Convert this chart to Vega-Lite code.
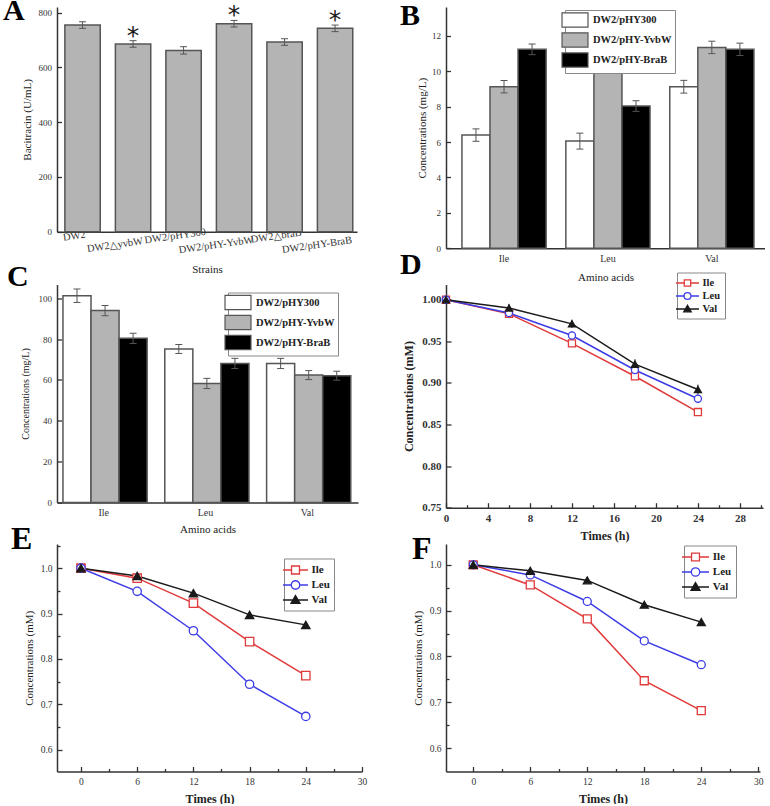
{
  "$schema": "https://vega.github.io/schema/vega-lite/v6.json",
  "background": "white",
  "padding": {"left": 3, "top": -4, "right": 0, "bottom": 0},
  "config": {
    "font": "Liberation Serif",
    "view": {"stroke": null},
    "axis": {"domainColor": "#333333", "domainWidth": 1.5, "tickColor": "#333333", "tickWidth": 1.3, "labelColor": "#333333", "titleColor": "#222222", "labelFont": "Liberation Serif", "titleFont": "Liberation Serif", "grid": false, "labelFontSize": 9.5, "titleFontSize": 11, "titleFontWeight": "normal", "labelFlush": false, "labelOverlap": false, "labelBound": false}
  },
  "bounds": "flush",
  "align": "each",
  "columns": 2,
  "spacing": {"row": 35.5, "column": 84},
  "resolve": {"scale": {"fill": "independent", "color": "independent", "stroke": "independent", "shape": "independent"}, "legend": {"fill": "independent", "color": "independent", "stroke": "independent", "shape": "independent"}},
  "concat": [
        {
          "width": 300, "height": 224.7,
          "title": {"text": "A", "anchor": "start", "frame": "group", "offset": 0, "dx": -54, "dy": 47, "baseline": "alphabetic", "fontSize": 30, "fontWeight": "bold", "font": "Liberation Serif", "color": "#000000"},
          "data": {"values": [
            {"strain": "DW2", "value": 755, "lo": 743, "hi": 767, "sig": ""},
            {"strain": "DW2△yvbW", "value": 686, "lo": 674, "hi": 698, "sig": "*"},
            {"strain": "DW2/pHY300", "value": 662, "lo": 649, "hi": 676, "sig": ""},
            {"strain": "DW2/pHY-YvbW", "value": 760, "lo": 748, "hi": 772, "sig": "*"},
            {"strain": "DW2△braB", "value": 693, "lo": 681, "hi": 705, "sig": ""},
            {"strain": "DW2/pHY-BraB", "value": 743, "lo": 731, "hi": 755, "sig": "*"}
          ]},
          "encoding": {
            "x": {"field": "strain", "type": "nominal", "sort": null,
              "scale": {"paddingInner": 0.3, "paddingOuter": 0.12, "align": 0.65},
              "axis": {"title": "Strains", "labelAngle": -8, "labelAlign": "center", "labelBaseline": "top", "labelFontSize": 10.5, "labelLineHeight": 9, "labelPadding": 3,
                "labelOffset": {"condition": {"test": "indexof(['DW2△yvbW','DW2/pHY-YvbW','DW2/pHY-BraB'], datum.value) >= 0", "value": -20}, "value": -9},
                "tickSize": -4, "titlePadding": 8, "titleFontSize": 11,
                "labelExpr": "indexof(['DW2△yvbW','DW2/pHY-YvbW','DW2/pHY-BraB'], datum.value) >= 0 ? ['', datum.label] : datum.label"}}
          },
          "layer": [
            {"mark": {"type": "bar", "fill": "#b4b4b4", "stroke": "#555555", "strokeWidth": 1.5},
             "encoding": {"y": {"field": "value", "type": "quantitative", "scale": {"domain": [0, 821], "nice": false},
               "axis": {"title": "Bacitracin (U/mL)", "values": [0, 100, 200, 300, 400, 500, 600, 700, 800], "labelExpr": "datum.value % 200 == 0 ? datum.label : ''", "tickSize": {"condition": {"test": "datum.value % 200 != 0", "value": -2.5}, "value": -4.5}, "labelPadding": 10, "titlePadding": 6, "labelFontSize": 9, "titleFontSize": 11}}}},
            {"mark": {"type": "rule", "color": "#555555", "strokeWidth": 1}, "encoding": {"y": {"field": "lo", "type": "quantitative"}, "y2": {"field": "hi"}}},
            {"mark": {"type": "tick", "orient": "horizontal", "size": 7, "thickness": 1, "color": "#555555", "opacity": 1}, "encoding": {"y": {"field": "lo", "type": "quantitative"}}},
            {"mark": {"type": "tick", "orient": "horizontal", "size": 7, "thickness": 1, "color": "#555555", "opacity": 1}, "encoding": {"y": {"field": "hi", "type": "quantitative"}}},
            {"mark": {"type": "text", "font": "DejaVu Sans", "fontSize": 25, "baseline": "alphabetic", "dy": 3, "color": "#1a1a1a"}, "encoding": {"y": {"field": "hi", "type": "quantitative"}, "text": {"field": "sig"}}}
          ]
        },
        {
          "width": 319, "height": 241.3,
          "title": {"text": "B", "anchor": "start", "frame": "group", "offset": 0, "dx": -46, "dy": 48, "baseline": "alphabetic", "fontSize": 30, "fontWeight": "bold", "font": "Liberation Serif", "color": "#000000"},
          "data": {"values": [
            {"aa": "Ile", "strain": "DW2/pHY300", "value": 6.39, "lo": 6.04, "hi": 6.74},
            {"aa": "Ile", "strain": "DW2/pHY-YvbW", "value": 9.12, "lo": 8.77, "hi": 9.47},
            {"aa": "Ile", "strain": "DW2/pHY-BraB", "value": 11.23, "lo": 10.93, "hi": 11.53},
            {"aa": "Leu", "strain": "DW2/pHY300", "value": 6.05, "lo": 5.6, "hi": 6.5},
            {"aa": "Leu", "strain": "DW2/pHY-YvbW", "value": 10.34, "lo": 10.02, "hi": 10.66},
            {"aa": "Leu", "strain": "DW2/pHY-BraB", "value": 8.03, "lo": 7.73, "hi": 8.33},
            {"aa": "Val", "strain": "DW2/pHY300", "value": 9.12, "lo": 8.76, "hi": 9.48},
            {"aa": "Val", "strain": "DW2/pHY-YvbW", "value": 11.34, "lo": 10.99, "hi": 11.69},
            {"aa": "Val", "strain": "DW2/pHY-BraB", "value": 11.23, "lo": 10.88, "hi": 11.58}
          ]},
          "encoding": {
            "x": {"field": "aa", "type": "nominal", "sort": null, "scale": {"paddingInner": 0.19, "paddingOuter": 0.13, "align": 0.59},
              "axis": {"title": "Amino acids", "labelAngle": 0, "ticks": false, "labelPadding": 5, "titlePadding": 8, "labelFontSize": 10, "titleFontSize": 11}},
            "xOffset": {"field": "strain", "type": "nominal", "sort": null}
          },
          "layer": [
            {"mark": {"type": "bar", "stroke": "#555555", "strokeWidth": 1.5},
             "encoding": {
               "y": {"field": "value", "type": "quantitative", "scale": {"domain": [0, 13.62], "nice": false},
                 "axis": {"title": "Concentrations (mg/L)", "values": [0, 1, 2, 3, 4, 5, 6, 7, 8, 9, 10, 11, 12, 13], "labelExpr": "datum.value % 2 == 0 ? datum.label : ''", "tickSize": {"condition": {"test": "datum.value % 2 != 0", "value": -2.5}, "value": -4.5}, "labelPadding": 10, "titlePadding": 4, "labelFontSize": 9, "titleFontSize": 11}},
               "fill": {"field": "strain", "type": "nominal", "sort": null,
                 "scale": {"domain": ["DW2/pHY300", "DW2/pHY-YvbW", "DW2/pHY-BraB"], "range": ["#ffffff", "#b4b4b4", "#000000"]},
                 "legend": {"title": null, "orient": "none", "legendX": 119, "legendY": 3, "symbolType": "M-2.12,-1.15H2.12V1.15H-2.12Z", "symbolSize": 150, "symbolStrokeColor": "#555555", "symbolStrokeWidth": 1.2, "labelFont": "Liberation Serif", "labelFontSize": 10.5, "labelFontWeight": "bold", "labelColor": "#222222", "labelOffset": 11, "rowPadding": 0, "padding": 3, "strokeColor": "#888888", "fillColor": "#ffffff"}}
             }},
            {"mark": {"type": "rule", "color": "#555555", "strokeWidth": 1}, "encoding": {"y": {"field": "lo", "type": "quantitative"}, "y2": {"field": "hi"}}},
            {"mark": {"type": "tick", "orient": "horizontal", "size": 7, "thickness": 1, "color": "#555555", "opacity": 1}, "encoding": {"y": {"field": "lo", "type": "quantitative"}}},
            {"mark": {"type": "tick", "orient": "horizontal", "size": 7, "thickness": 1, "color": "#555555", "opacity": 1}, "encoding": {"y": {"field": "hi", "type": "quantitative"}}}
          ]
        },
        {
          "width": 301, "height": 217.9,
          "title": {"text": "C", "anchor": "start", "frame": "group", "offset": 0, "dx": -50, "dy": 31.2, "baseline": "alphabetic", "fontSize": 30, "fontWeight": "bold", "font": "Liberation Serif", "color": "#000000"},
          "data": {"values": [
            {"aa": "Ile", "strain": "DW2/pHY300", "value": 101.3, "lo": 98.0, "hi": 104.6},
            {"aa": "Ile", "strain": "DW2/pHY-YvbW", "value": 94.0, "lo": 91.5, "hi": 96.5},
            {"aa": "Ile", "strain": "DW2/pHY-BraB", "value": 80.4, "lo": 77.9, "hi": 82.9},
            {"aa": "Leu", "strain": "DW2/pHY300", "value": 75.2, "lo": 73.0, "hi": 77.4},
            {"aa": "Leu", "strain": "DW2/pHY-YvbW", "value": 58.3, "lo": 55.8, "hi": 60.8},
            {"aa": "Leu", "strain": "DW2/pHY-BraB", "value": 68.1, "lo": 65.6, "hi": 70.6},
            {"aa": "Val", "strain": "DW2/pHY300", "value": 68.1, "lo": 65.6, "hi": 70.6},
            {"aa": "Val", "strain": "DW2/pHY-YvbW", "value": 62.4, "lo": 60.2, "hi": 64.6},
            {"aa": "Val", "strain": "DW2/pHY-BraB", "value": 62.1, "lo": 59.9, "hi": 64.3}
          ]},
          "encoding": {
            "x": {"field": "aa", "type": "nominal", "sort": null, "scale": {"paddingInner": 0.2, "paddingOuter": 0.078, "align": 0.375},
              "axis": {"title": "Amino acids", "labelAngle": 0, "ticks": false, "labelPadding": 5, "titlePadding": 6, "labelFontSize": 10, "titleFontSize": 11}},
            "xOffset": {"field": "strain", "type": "nominal", "sort": null}
          },
          "layer": [
            {"mark": {"type": "bar", "stroke": "#555555", "strokeWidth": 1.5},
             "encoding": {
               "y": {"field": "value", "type": "quantitative", "scale": {"domain": [0, 106.8], "nice": false},
                 "axis": {"title": "Concentrations (mg/L)", "values": [0, 10, 20, 30, 40, 50, 60, 70, 80, 90, 100], "labelExpr": "datum.value % 20 == 0 ? datum.label : ''", "tickSize": {"condition": {"test": "datum.value % 20 != 0", "value": -2.5}, "value": -4.5}, "labelPadding": 10, "titlePadding": 8, "labelFontSize": 9, "titleFontSize": 10}},
               "fill": {"field": "strain", "type": "nominal", "sort": null,
                 "scale": {"domain": ["DW2/pHY300", "DW2/pHY-YvbW", "DW2/pHY-BraB"], "range": ["#ffffff", "#b4b4b4", "#000000"]},
                 "legend": {"title": null, "orient": "none", "legendX": 171, "legendY": 8, "symbolType": "M-2.12,-1.15H2.12V1.15H-2.12Z", "symbolSize": 150, "symbolStrokeColor": "#555555", "symbolStrokeWidth": 1.2, "labelFont": "Liberation Serif", "labelFontSize": 10.5, "labelFontWeight": "bold", "labelColor": "#222222", "labelOffset": 11, "rowPadding": 0, "padding": 3, "strokeColor": "#888888", "fillColor": "#ffffff"}}
             }},
            {"mark": {"type": "rule", "color": "#555555", "strokeWidth": 1}, "encoding": {"y": {"field": "lo", "type": "quantitative"}, "y2": {"field": "hi"}}},
            {"mark": {"type": "tick", "orient": "horizontal", "size": 7, "thickness": 1, "color": "#555555", "opacity": 1}, "encoding": {"y": {"field": "lo", "type": "quantitative"}}},
            {"mark": {"type": "tick", "orient": "horizontal", "size": 7, "thickness": 1, "color": "#555555", "opacity": 1}, "encoding": {"y": {"field": "hi", "type": "quantitative"}}}
          ]
        },
        {
          "width": 317, "height": 223.2,
          "title": {"text": "D", "anchor": "start", "frame": "group", "offset": 0, "dx": -46, "dy": 32.2, "baseline": "alphabetic", "fontSize": 30, "fontWeight": "bold", "font": "Liberation Serif", "color": "#000000"},
          "data": {"values": [
            {"aa": "Ile", "t": 0, "v": 1.0, "lo": 0.998, "hi": 1.002},
            {"aa": "Ile", "t": 6, "v": 0.983, "lo": 0.979, "hi": 0.987},
            {"aa": "Ile", "t": 12, "v": 0.9475, "lo": 0.9435, "hi": 0.9515},
            {"aa": "Ile", "t": 18, "v": 0.908, "lo": 0.904, "hi": 0.912},
            {"aa": "Ile", "t": 24, "v": 0.865, "lo": 0.861, "hi": 0.869},
            {"aa": "Leu", "t": 0, "v": 1.0, "lo": 0.998, "hi": 1.002},
            {"aa": "Leu", "t": 6, "v": 0.984, "lo": 0.979, "hi": 0.989},
            {"aa": "Leu", "t": 12, "v": 0.957, "lo": 0.952, "hi": 0.962},
            {"aa": "Leu", "t": 18, "v": 0.9155, "lo": 0.9105, "hi": 0.9205},
            {"aa": "Leu", "t": 24, "v": 0.881, "lo": 0.876, "hi": 0.886},
            {"aa": "Val", "t": 0, "v": 1.0, "lo": 0.998, "hi": 1.002},
            {"aa": "Val", "t": 6, "v": 0.99, "lo": 0.985, "hi": 0.995},
            {"aa": "Val", "t": 12, "v": 0.971, "lo": 0.966, "hi": 0.976},
            {"aa": "Val", "t": 18, "v": 0.9225, "lo": 0.9165, "hi": 0.9285},
            {"aa": "Val", "t": 24, "v": 0.892, "lo": 0.886, "hi": 0.898}
          ]},
          "encoding": {
            "x": {"field": "t", "type": "quantitative", "scale": {"domain": [0, 30.2], "nice": false, "zero": false},
              "axis": {"title": "Times (h)", "values": [0, 2, 4, 6, 8, 10, 12, 14, 16, 18, 20, 22, 24, 26, 28, 30], "labelExpr": "datum.value % 4 == 0 && datum.value <= 28 ? datum.label : ''", "tickSize": {"condition": {"test": "datum.value % 4 != 0", "value": -3}, "value": -5}, "labelPadding": 10, "labelFontSize": 11, "labelFontWeight": "bold", "titleFontSize": 12, "titleFontWeight": "bold", "titlePadding": 5}}
          },
          "layer": [
            {"mark": {"type": "rule", "strokeWidth": 1},
             "encoding": {"y": {"field": "lo", "type": "quantitative", "title": "Concentrations (mM)"}, "y2": {"field": "hi"},
               "color": {"field": "aa", "type": "nominal", "scale": {"domain": ["Ile", "Leu", "Val"], "range": ["#e03a3a", "#3c3ce6", "#1a1a1a"]}, "legend": null}}},
            {"mark": {"type": "line", "strokeWidth": 1.5},
             "encoding": {
               "y": {"field": "v", "type": "quantitative", "title": "Concentrations (mM)", "scale": {"domain": [0.75, 1.0183], "nice": false, "zero": false},
                 "axis": {"values": [0.75, 0.775, 0.8, 0.825, 0.85, 0.875, 0.9, 0.925, 0.95, 0.975, 1.0], "format": ".2f", "labelExpr": "round(datum.value * 1000) % 50 == 0 ? datum.label : ''", "tickSize": {"condition": {"test": "round(datum.value * 1000) % 50 != 0", "value": -3}, "value": -5}, "labelPadding": 10, "labelFontSize": 11, "labelFontWeight": "bold", "titleFontSize": 12, "titleFontWeight": "bold", "titlePadding": 6}},
               "color": {"field": "aa", "type": "nominal", "scale": {"domain": ["Ile", "Leu", "Val"], "range": ["#e03a3a", "#3c3ce6", "#1a1a1a"]}, "legend": null}}},
            {"mark": {"type": "point", "size": 50, "strokeWidth": 1.3, "opacity": 1},
             "encoding": {
               "y": {"field": "v", "type": "quantitative", "title": "Concentrations (mM)"},
               "shape": {"field": "aa", "type": "nominal", "scale": {"domain": ["Ile", "Leu", "Val"], "range": ["square", "circle", "triangle-up"]}, "legend": null},
               "fill": {"field": "aa", "type": "nominal", "scale": {"domain": ["Ile", "Leu", "Val"], "range": ["#ffffff", "#ffffff", "#1a1a1a"]}, "legend": null},
               "stroke": {"field": "aa", "type": "nominal", "scale": {"domain": ["Ile", "Leu", "Val"], "range": ["#e03a3a", "#3c3ce6", "#1a1a1a"]}, "legend": null}}},
            {"data": {"values": []},
             "mark": {"type": "point", "size": 132, "strokeWidth": 1.3, "opacity": 1},
             "encoding": {
               "y": {"field": "v", "type": "quantitative", "title": "Concentrations (mM)"},
               "shape": {"field": "aa", "type": "nominal", "scale": {"domain": ["Ile", "Leu", "Val"], "range": ["M-2,0H-0.56M0.56,0H2M-0.56,-0.56H0.56V0.56H-0.56Z", "M-2,0H-0.6M0.6,0H2M-0.6,0A0.6,0.6 0 1,1 0.6,0A0.6,0.6 0 1,1 -0.6,0Z", "M-2,0H2M0,-0.65L0.65,0.5L-0.65,0.5Z"]},
                 "legend": {"title": null, "orient": "none", "legendX": 231, "legendY": -12, "symbolSize": 132, "symbolStrokeWidth": 1.3, "labelFont": "Liberation Serif", "labelFontSize": 10.5, "labelFontWeight": "bold", "labelColor": "#222222", "labelOffset": 8.5, "rowPadding": 0, "padding": 4, "strokeColor": "#888888", "fillColor": "#ffffff"}},
               "fill": {"field": "aa", "type": "nominal", "scale": {"domain": ["Ile", "Leu", "Val"], "range": ["#ffffff", "#ffffff", "#1a1a1a"]},
                 "legend": {"title": null, "orient": "none", "legendX": 231, "legendY": -12, "symbolSize": 132, "symbolStrokeWidth": 1.3, "labelFont": "Liberation Serif", "labelFontSize": 10.5, "labelFontWeight": "bold", "labelColor": "#222222", "labelOffset": 8.5, "rowPadding": 0, "padding": 4, "strokeColor": "#888888", "fillColor": "#ffffff"}},
               "stroke": {"field": "aa", "type": "nominal", "scale": {"domain": ["Ile", "Leu", "Val"], "range": ["#e03a3a", "#3c3ce6", "#1a1a1a"]},
                 "legend": {"title": null, "orient": "none", "legendX": 231, "legendY": -12, "symbolSize": 132, "symbolStrokeWidth": 1.3, "labelFont": "Liberation Serif", "labelFontSize": 10.5, "labelFontWeight": "bold", "labelColor": "#222222", "labelOffset": 8.5, "rowPadding": 0, "padding": 4, "strokeColor": "#888888", "fillColor": "#ffffff"}}}}
          ],
          "resolve": {"scale": {"color": "independent", "fill": "independent", "stroke": "independent", "shape": "independent"}}
        },
        {
          "width": 305, "height": 227.5,
          "title": {"text": "E", "anchor": "start", "frame": "group", "offset": 0, "dx": -46, "dy": 40.5, "baseline": "alphabetic", "fontSize": 32, "fontWeight": "bold", "font": "Liberation Serif", "color": "#000000"},
          "data": {"values": [
            {"aa": "Ile", "t": 0, "v": 1.0}, {"aa": "Ile", "t": 6, "v": 0.978}, {"aa": "Ile", "t": 12, "v": 0.923}, {"aa": "Ile", "t": 18, "v": 0.838}, {"aa": "Ile", "t": 24, "v": 0.763},
            {"aa": "Leu", "t": 0, "v": 1.0}, {"aa": "Leu", "t": 6, "v": 0.949}, {"aa": "Leu", "t": 12, "v": 0.862}, {"aa": "Leu", "t": 18, "v": 0.744}, {"aa": "Leu", "t": 24, "v": 0.673},
            {"aa": "Val", "t": 0, "v": 1.0}, {"aa": "Val", "t": 6, "v": 0.983}, {"aa": "Val", "t": 12, "v": 0.945}, {"aa": "Val", "t": 18, "v": 0.897}, {"aa": "Val", "t": 24, "v": 0.875}
          ]},
          "encoding": {
            "x": {"field": "t", "type": "quantitative", "scale": {"domain": [-2.56, 30], "nice": false, "zero": false},
              "axis": {"title": "Times (h)", "values": [0, 3, 6, 9, 12, 15, 18, 21, 24, 27, 30], "labelExpr": "datum.value % 6 == 0 ? datum.label : ''", "tickSize": {"condition": {"test": "datum.value % 6 != 0", "value": -3}, "value": -5}, "labelPadding": 10, "labelFontSize": 9.5, "titleFontSize": 12, "titleFontWeight": "bold", "titlePadding": 5}},
            "y": {"field": "v", "type": "quantitative", "scale": {"domain": [0.5515, 1.0534], "nice": false, "zero": false},
              "axis": {"title": "Concentrations (mM)", "values": [0.6, 0.65, 0.7, 0.75, 0.8, 0.85, 0.9, 0.95, 1.0, 1.05], "format": ".1f", "labelExpr": "round(datum.value * 1000) % 100 == 0 ? datum.label : ''", "tickSize": {"condition": {"test": "round(datum.value * 1000) % 100 != 0", "value": -3}, "value": -5}, "labelPadding": 10, "labelFontSize": 9.5, "titleFontSize": 11, "titlePadding": 6}}
          },
          "layer": [
            {"mark": {"type": "line", "strokeWidth": 1.5},
             "encoding": {"color": {"field": "aa", "type": "nominal", "scale": {"domain": ["Ile", "Leu", "Val"], "range": ["#e03a3a", "#3c3ce6", "#1a1a1a"]}, "legend": null}}},
            {"mark": {"type": "point", "size": 70, "strokeWidth": 1.3, "opacity": 1},
             "encoding": {
               "shape": {"field": "aa", "type": "nominal", "scale": {"domain": ["Ile", "Leu", "Val"], "range": ["square", "circle", "triangle-up"]}, "legend": null},
               "fill": {"field": "aa", "type": "nominal", "scale": {"domain": ["Ile", "Leu", "Val"], "range": ["#ffffff", "#ffffff", "#1a1a1a"]}, "legend": null},
               "stroke": {"field": "aa", "type": "nominal", "scale": {"domain": ["Ile", "Leu", "Val"], "range": ["#e03a3a", "#3c3ce6", "#1a1a1a"]}, "legend": null}}},
            {"data": {"values": []},
             "mark": {"type": "point", "size": 182, "strokeWidth": 1.3, "opacity": 1},
             "encoding": {
               "shape": {"field": "aa", "type": "nominal", "scale": {"domain": ["Ile", "Leu", "Val"], "range": ["M-1.85,0H-0.59M0.59,0H1.85M-0.59,-0.59H0.59V0.59H-0.59Z", "M-1.85,0H-0.63M0.63,0H1.85M-0.63,0A0.63,0.63 0 1,1 0.63,0A0.63,0.63 0 1,1 -0.63,0Z", "M-1.85,0H1.85M0,-0.67L0.67,0.5L-0.67,0.5Z"]},
                 "legend": {"title": null, "orient": "none", "legendX": 227, "legendY": 14.5, "symbolSize": 182, "symbolStrokeWidth": 1.3, "labelFont": "Liberation Serif", "labelFontSize": 11, "labelFontWeight": "bold", "labelColor": "#222222", "labelOffset": 8.5, "rowPadding": 0, "padding": 4, "strokeColor": "#888888", "fillColor": "#ffffff"}},
               "fill": {"field": "aa", "type": "nominal", "scale": {"domain": ["Ile", "Leu", "Val"], "range": ["#ffffff", "#ffffff", "#1a1a1a"]},
                 "legend": {"title": null, "orient": "none", "legendX": 227, "legendY": 14.5, "symbolSize": 182, "symbolStrokeWidth": 1.3, "labelFont": "Liberation Serif", "labelFontSize": 11, "labelFontWeight": "bold", "labelColor": "#222222", "labelOffset": 8.5, "rowPadding": 0, "padding": 4, "strokeColor": "#888888", "fillColor": "#ffffff"}},
               "stroke": {"field": "aa", "type": "nominal", "scale": {"domain": ["Ile", "Leu", "Val"], "range": ["#e03a3a", "#3c3ce6", "#1a1a1a"]},
                 "legend": {"title": null, "orient": "none", "legendX": 227, "legendY": 14.5, "symbolSize": 182, "symbolStrokeWidth": 1.3, "labelFont": "Liberation Serif", "labelFontSize": 11, "labelFontWeight": "bold", "labelColor": "#222222", "labelOffset": 8.5, "rowPadding": 0, "padding": 4, "strokeColor": "#888888", "fillColor": "#ffffff"}}}}
          ],
          "resolve": {"scale": {"color": "independent", "fill": "independent", "stroke": "independent", "shape": "independent"}}
        },
        {
          "width": 314, "height": 227.5,
          "title": {"text": "F", "anchor": "start", "frame": "group", "offset": 0, "dx": -34, "dy": 46.5, "baseline": "alphabetic", "fontSize": 32, "fontWeight": "bold", "font": "Liberation Serif", "color": "#000000"},
          "data": {"values": [
            {"aa": "Ile", "t": 0, "v": 1.0}, {"aa": "Ile", "t": 6, "v": 0.956}, {"aa": "Ile", "t": 12, "v": 0.882}, {"aa": "Ile", "t": 18, "v": 0.747}, {"aa": "Ile", "t": 24, "v": 0.682},
            {"aa": "Leu", "t": 0, "v": 1.0}, {"aa": "Leu", "t": 6, "v": 0.978}, {"aa": "Leu", "t": 12, "v": 0.92}, {"aa": "Leu", "t": 18, "v": 0.834}, {"aa": "Leu", "t": 24, "v": 0.782},
            {"aa": "Val", "t": 0, "v": 1.0}, {"aa": "Val", "t": 6, "v": 0.987}, {"aa": "Val", "t": 12, "v": 0.966}, {"aa": "Val", "t": 18, "v": 0.913}, {"aa": "Val", "t": 24, "v": 0.875}
          ]},
          "encoding": {
            "x": {"field": "t", "type": "quantitative", "scale": {"domain": [-2.87, 30.18], "nice": false, "zero": false},
              "axis": {"title": "Times (h)", "values": [0, 3, 6, 9, 12, 15, 18, 21, 24, 27, 30], "labelExpr": "datum.value % 6 == 0 ? datum.label : ''", "tickSize": {"condition": {"test": "datum.value % 6 != 0", "value": -3}, "value": -5}, "labelPadding": 10, "labelFontSize": 9.5, "titleFontSize": 12, "titleFontWeight": "bold", "titlePadding": 5}},
            "y": {"field": "v", "type": "quantitative", "scale": {"domain": [0.549, 1.0454], "nice": false, "zero": false},
              "axis": {"title": "Concentrations (mM)", "values": [0.6, 0.65, 0.7, 0.75, 0.8, 0.85, 0.9, 0.95, 1.0], "format": ".1f", "labelExpr": "round(datum.value * 1000) % 100 == 0 ? datum.label : ''", "tickSize": {"condition": {"test": "round(datum.value * 1000) % 100 != 0", "value": -3}, "value": -5}, "labelPadding": 10, "labelFontSize": 9.5, "titleFontSize": 11, "titlePadding": 6}}
          },
          "layer": [
            {"mark": {"type": "line", "strokeWidth": 1.5},
             "encoding": {"color": {"field": "aa", "type": "nominal", "scale": {"domain": ["Ile", "Leu", "Val"], "range": ["#e03a3a", "#3c3ce6", "#1a1a1a"]}, "legend": null}}},
            {"mark": {"type": "point", "size": 64, "strokeWidth": 1.3, "opacity": 1},
             "encoding": {
               "shape": {"field": "aa", "type": "nominal", "scale": {"domain": ["Ile", "Leu", "Val"], "range": ["square", "circle", "triangle-up"]}, "legend": null},
               "fill": {"field": "aa", "type": "nominal", "scale": {"domain": ["Ile", "Leu", "Val"], "range": ["#ffffff", "#ffffff", "#1a1a1a"]}, "legend": null},
               "stroke": {"field": "aa", "type": "nominal", "scale": {"domain": ["Ile", "Leu", "Val"], "range": ["#e03a3a", "#3c3ce6", "#1a1a1a"]}, "legend": null}}},
            {"data": {"values": []},
             "mark": {"type": "point", "size": 174, "strokeWidth": 1.3, "opacity": 1},
             "encoding": {
               "shape": {"field": "aa", "type": "nominal", "scale": {"domain": ["Ile", "Leu", "Val"], "range": ["M-2.05,0H-0.6M0.6,0H2.05M-0.6,-0.6H0.6V0.6H-0.6Z", "M-2.05,0H-0.64M0.64,0H2.05M-0.64,0A0.64,0.64 0 1,1 0.64,0A0.64,0.64 0 1,1 -0.64,0Z", "M-2.05,0H2.05M0,-0.68L0.68,0.5L-0.68,0.5Z"]},
                 "legend": {"title": null, "orient": "none", "legendX": 238, "legendY": 1.5, "symbolSize": 174, "symbolStrokeWidth": 1.3, "labelFont": "Liberation Serif", "labelFontSize": 11, "labelFontWeight": "bold", "labelColor": "#222222", "labelOffset": 9.8, "rowPadding": 0, "padding": 4, "strokeColor": "#888888", "fillColor": "#ffffff"}},
               "fill": {"field": "aa", "type": "nominal", "scale": {"domain": ["Ile", "Leu", "Val"], "range": ["#ffffff", "#ffffff", "#1a1a1a"]},
                 "legend": {"title": null, "orient": "none", "legendX": 238, "legendY": 1.5, "symbolSize": 174, "symbolStrokeWidth": 1.3, "labelFont": "Liberation Serif", "labelFontSize": 11, "labelFontWeight": "bold", "labelColor": "#222222", "labelOffset": 9.8, "rowPadding": 0, "padding": 4, "strokeColor": "#888888", "fillColor": "#ffffff"}},
               "stroke": {"field": "aa", "type": "nominal", "scale": {"domain": ["Ile", "Leu", "Val"], "range": ["#e03a3a", "#3c3ce6", "#1a1a1a"]},
                 "legend": {"title": null, "orient": "none", "legendX": 238, "legendY": 1.5, "symbolSize": 174, "symbolStrokeWidth": 1.3, "labelFont": "Liberation Serif", "labelFontSize": 11, "labelFontWeight": "bold", "labelColor": "#222222", "labelOffset": 9.8, "rowPadding": 0, "padding": 4, "strokeColor": "#888888", "fillColor": "#ffffff"}}}}
          ],
          "resolve": {"scale": {"color": "independent", "fill": "independent", "stroke": "independent", "shape": "independent"}}
        }
  ]
}
